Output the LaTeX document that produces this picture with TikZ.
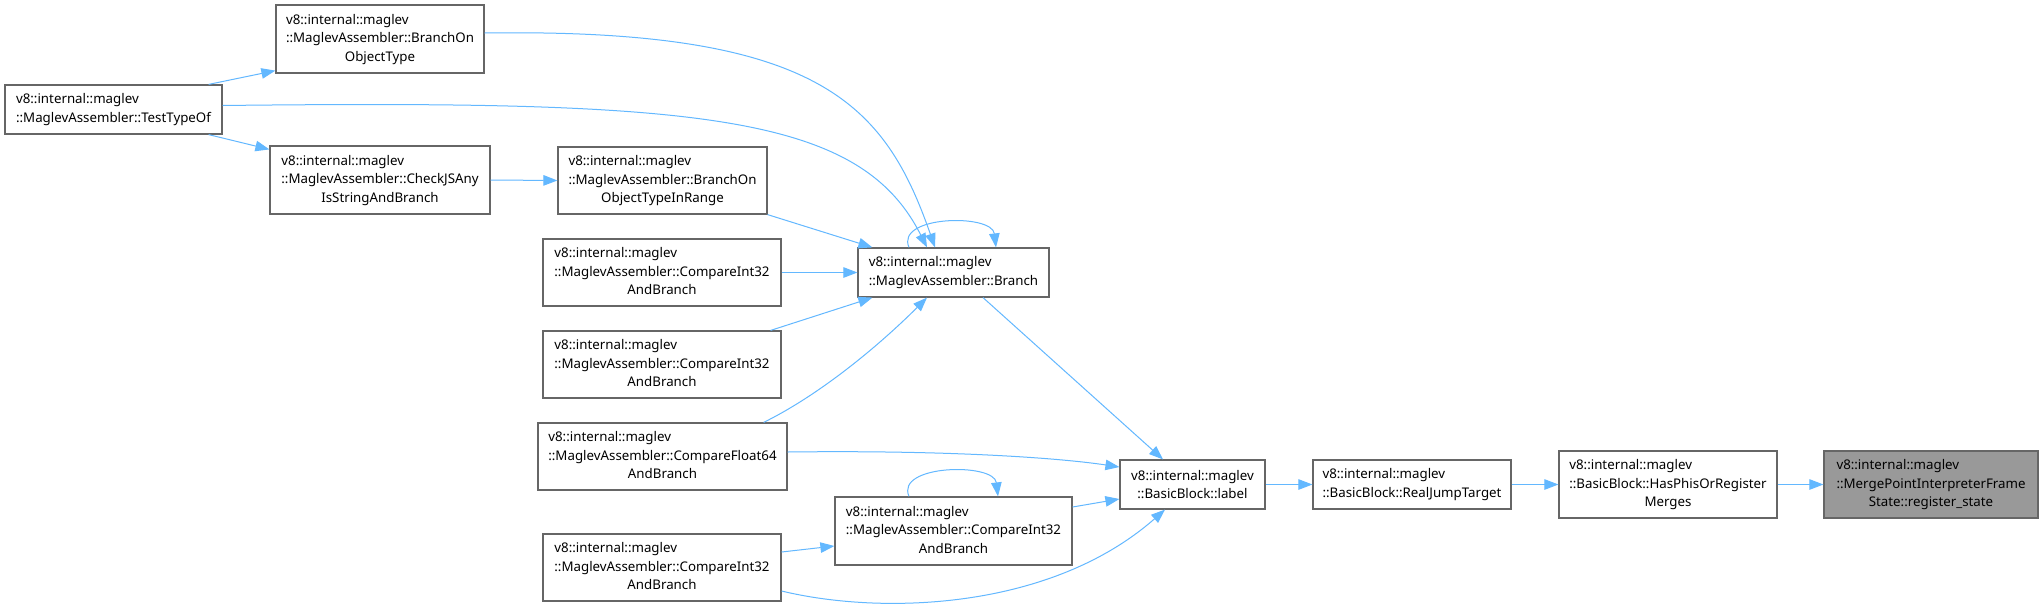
\documentclass[tikz,border=0pt]{standalone}
\usepackage{fontspec}
\setmainfont{Noto Sans}
\usetikzlibrary{arrows.meta}

\definecolor{edgeblue}{HTML}{63B8FF}
\definecolor{boxgray}{HTML}{666666}
\definecolor{focusgray}{HTML}{999999}

\newcommand{\fntwo}[2]{\begin{tabular}{@{}l@{}}#1\\#2\end{tabular}}
\newcommand{\fnthree}[3]{\begin{tabular}{@{}l@{}}#1\\#2\\\multicolumn{1}{@{}c@{}}{#3}\end{tabular}}

\begin{document}
\begin{tikzpicture}[
  x=1pt,
  y=-1pt,
  font=\fontsize{13.3}{18.7}\selectfont,
  fnbox/.style={
    draw=boxgray,
    fill=white,
    line width=1.2pt,
    inner sep=0pt,
    align=center
  },
  focus/.style={fnbox, fill=focusgray},
  call/.style={
    draw=edgeblue,
    line width=1pt,
    -{Triangle[length=14pt,width=10.5pt]}
  }
]
\useasboundingbox[fill=white] (0,0) rectangle (2043,606);

% ---------------------------------------------------------------------------
% Callers on the left
% ---------------------------------------------------------------------------
\node[fnbox, minimum width=217pt, minimum height=49pt] (testtype) at (113.5,109.5)
  {\fntwo{v8::internal::maglev}{::MaglevAssembler::TestTypeOf}};
\node[fnbox, minimum width=208pt, minimum height=68pt] (boot) at (380,39)
  {\fnthree{v8::internal::maglev}{::MaglevAssembler::BranchOn}{ObjectType}};
\node[fnbox, minimum width=220pt, minimum height=68pt] (checkjs) at (380,180)
  {\fnthree{v8::internal::maglev}{::MaglevAssembler::CheckJSAny}{IsStringAndBranch}};
\node[fnbox, minimum width=209pt, minimum height=67pt] (bootrange) at (662.5,180.5)
  {\fnthree{v8::internal::maglev}{::MaglevAssembler::BranchOn}{ObjectTypeInRange}};
\node[fnbox, minimum width=238pt, minimum height=67pt] (cmpa) at (662,272.5)
  {\fnthree{v8::internal::maglev}{::MaglevAssembler::CompareInt32}{AndBranch}};
\node[fnbox, minimum width=238pt, minimum height=67pt] (cmpb) at (662,364.5)
  {\fnthree{v8::internal::maglev}{::MaglevAssembler::CompareInt32}{AndBranch}};
\node[fnbox, minimum width=249pt, minimum height=67pt] (cmpf) at (662.5,456.5)
  {\fnthree{v8::internal::maglev}{::MaglevAssembler::CompareFloat64}{AndBranch}};
\node[fnbox, minimum width=238pt, minimum height=67pt] (cmpd) at (662,567.5)
  {\fnthree{v8::internal::maglev}{::MaglevAssembler::CompareInt32}{AndBranch}};

% ---------------------------------------------------------------------------
% Middle and right column
% ---------------------------------------------------------------------------
\node[fnbox, minimum width=191pt, minimum height=49pt] (branch) at (953.5,272.5)
  {\fntwo{v8::internal::maglev}{::MaglevAssembler::Branch}};
\node[fnbox, minimum width=237pt, minimum height=68pt] (cmpc) at (953.5,531)
  {\fnthree{v8::internal::maglev}{::MaglevAssembler::CompareInt32}{AndBranch}};
\node[fnbox, minimum width=145pt, minimum height=49pt] (bblabel) at (1192.5,484.5)
  {v8::internal::maglev\\::BasicBlock::label};
\node[fnbox, minimum width=198pt, minimum height=49pt] (jump) at (1412,484.5)
  {\fntwo{v8::internal::maglev}{::BasicBlock::RealJumpTarget}};
\node[fnbox, minimum width=218pt, minimum height=67pt] (phis) at (1668,484.5)
  {\fnthree{v8::internal::maglev}{::BasicBlock::HasPhisOrRegister}{Merges}};
\node[focus, minimum width=214pt, minimum height=67pt] (regstate) at (1931,484.5)
  {\fnthree{v8::internal::maglev}{::MergePointInterpreterFrame}{State::register\_state}};

% ---------------------------------------------------------------------------
% Calls
% ---------------------------------------------------------------------------
\draw[call] ([xshift=-14pt]testtype.north east) -- ([yshift=3pt]boot.south west);
\draw[call] ([xshift=-14pt]testtype.south east) -- ([yshift=-4pt]checkjs.north west);
\draw[call] ([yshift=4pt]testtype.east) .. controls +(478,-5.5) and +(-67,-133) .. ([xshift=-26.5pt]branch.north);
\draw[call] ([yshift=6pt]boot.east) .. controls +(336,-5) and +(-50,-143) .. ([xshift=-18.5pt]branch.north);
\draw[call] (checkjs.east) -- (bootrange.west);
\draw[call] (bootrange.south east) -- ([xshift=15pt]branch.north west);
\draw[call] (cmpa.east) -- (branch.west);
\draw[call] ([xshift=-11pt]cmpb.north east) -- ([xshift=15pt]branch.south west);
\draw[call] ([xshift=-24pt]cmpf.north east) .. controls +(57,-28) and +(-47,47) .. ([xshift=-26.5pt]branch.south);
\draw[call] ([xshift=-44.5pt]branch.north) .. controls +(-14,-32) and +(-4,-34) .. ([xshift=42.5pt]branch.north);

\draw[call] ([xshift=29.5pt]branch.south) -- ([xshift=-29.5pt]bblabel.north);
\draw[call] ([yshift=4.5pt]cmpf.east) .. controls +(163,-2) and +(-60,-9) .. ([yshift=17.5pt]bblabel.west);
\draw[call] ([yshift=24pt]cmpc.east) -- ([yshift=-14.5pt]bblabel.west);
\draw[call] ([yshift=-23.5pt]cmpd.east) .. controls +(99,24) and +(-115,101) .. ([xshift=-27.5pt]bblabel.south);
\draw[call] ([yshift=15.5pt]cmpd.east) -- ([yshift=-15pt]cmpc.west);
\draw[call] ([xshift=-44.5pt]cmpc.north) .. controls +(-14,-32) and +(-4,-34) .. ([xshift=44.5pt]cmpc.north);

\draw[call] (bblabel.east) -- (jump.west);
\draw[call] (jump.east) -- (phis.west);
\draw[call] (phis.east) -- (regstate.west);
\end{tikzpicture}
\end{document}
